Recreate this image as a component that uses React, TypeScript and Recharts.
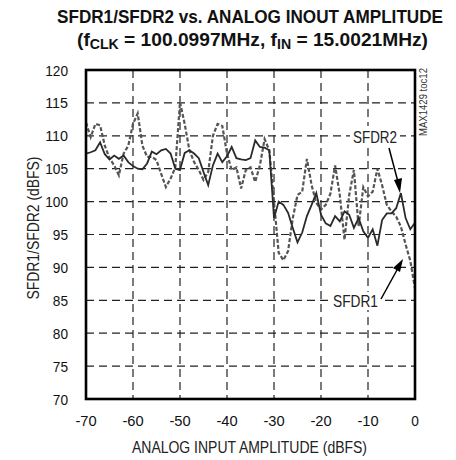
import { LineChart, Line, XAxis, YAxis, CartesianGrid } from 'recharts';

// input amplitude (dBFS)
const amplitude = [
  -70, -69, -68, -67, -66, -65, -64, -63, -62, -61, -60, -59, -58, -57, -56, -55, -54, -53,
  -52, -51, -50, -49, -48, -47, -46, -45, -44, -43, -42, -41, -40, -39, -38, -37, -36, -35,
  -34, -33, -32, -31, -30, -29, -28, -27, -26, -25, -24, -23, -22, -21, -20, -19, -18, -17,
  -16, -15, -14, -13, -12, -11, -10, -9, -8, -7, -6, -5, -4, -3, -2, -1, 0,
];

// dashed trace
const sfdr1 = [
  112.0, 109.8, 111.8, 111.6, 108.5, 106.6, 105.5, 104.0, 107.3, 108.5, 111.8, 113.4, 108.5, 106.8,
  106.8, 106.3, 104.2, 102.2, 103.5, 105.2, 115.1, 111.8, 107.8, 106.0, 104.8, 103.3, 104.5, 110.0,
  111.8, 111.5, 107.3, 104.8, 105.2, 102.0, 104.8, 105.2, 103.0, 105.5, 109.5, 107.8, 100.0, 92.2,
  91.1, 92.5, 97.5, 101.0, 101.5, 106.5, 102.5, 99.8, 98.8, 99.5, 101.2, 105.5, 101.0, 94.2,
  101.0, 104.8, 96.2, 102.2, 100.8, 101.5, 105.0, 102.5, 99.5, 98.5, 97.7, 96.2, 93.5, 91.0, 86.8,
];

// solid trace
const sfdr2 = [
  107.3, 107.5, 107.8, 109.0, 107.2, 106.4, 107.0, 106.5, 107.0, 106.0, 105.4, 105.0, 104.9, 105.8,
  107.6, 107.2, 107.8, 108.0, 107.3, 105.0, 104.8, 107.4, 107.8, 107.3, 106.6, 104.5, 102.5, 105.5,
  107.3, 106.0, 106.9, 108.3, 106.6, 106.4, 106.3, 106.6, 109.3, 108.3, 108.2, 107.8, 97.5, 100.0,
  99.5, 98.3, 96.0, 93.8, 95.3, 97.8, 99.5, 101.3, 98.0, 96.7, 96.3, 97.8, 97.0, 98.5,
  98.0, 96.0, 97.5, 95.5, 94.5, 95.8, 93.3, 97.2, 98.2, 98.2, 99.0, 101.3, 97.5, 95.8, 96.8,
];

const xTicks = [-70, -60, -50, -40, -30, -20, -10, 0];
const yTicks = [70, 75, 80, 85, 90, 95, 100, 105, 110, 115, 120];

const data = amplitude.map((x, i) => ({ x, sfdr1: sfdr1[i], sfdr2: sfdr2[i] }));

const font = "'Liberation Sans Narrow', 'Liberation Sans', Arial, sans-serif";

// narrow-looking tick text: squeeze each label to a condensed width
const charWidth = (s: string) => s.split('').reduce((w, c) => w + (c === '-' ? 6 : 7.6), 0);

const XTick = (props: any) => {
  const { x, y, payload } = props;
  const label = String(payload.value);
  return (
    <text x={x} y={y + 11.5} textAnchor="middle" fontSize={15.5} fill="#111" textLength={charWidth(label)} lengthAdjust="spacingAndGlyphs">
      {label}
    </text>
  );
};

const YTick = (props: any) => {
  const { x, y, payload } = props;
  const label = String(payload.value);
  return (
    <text x={x} y={y + 5.5} textAnchor="end" fontSize={15.5} fill="#111" textLength={charWidth(label)} lengthAdjust="spacingAndGlyphs">
      {label}
    </text>
  );
};

const App = () => {
  return (
    <div style={{ position: 'absolute', left: 0, top: 0, width: 456, height: 460, background: '#fff', fontFamily: font }}>
      <LineChart width={456} height={460} data={data} margin={{ top: 70, right: 41, bottom: 31, left: 36 }}>
        <CartesianGrid stroke="#222" strokeDasharray="8 5" strokeWidth={1.2} />
        <XAxis
          type="number"
          dataKey="x"
          domain={[-70, 0]}
          ticks={xTicks}
          height={30}
          tickLine={false}
          axisLine={false}
          tickSize={0}
          tickMargin={15}
          tick={<XTick />}
        />
        <YAxis
          type="number"
          domain={[70, 120]}
          ticks={yTicks}
          width={50}
          tickLine={false}
          axisLine={false}
          tickSize={0}
          tickMargin={18}
          tick={<YTick />}
        />
        <Line dataKey="sfdr1" stroke="#555" strokeWidth={2.2} strokeDasharray="4 2" dot={false} isAnimationActive={false} />
        <Line dataKey="sfdr2" stroke="#2a2a2a" strokeWidth={1.8} dot={false} isAnimationActive={false} />
      </LineChart>

      <svg width={456} height={460} style={{ position: 'absolute', left: 0, top: 0, pointerEvents: 'none' }}>
        <rect x={86} y={70} width={329} height={329} fill="none" stroke="#000" strokeWidth={2.6} />

        <text x={57} y={23} fontSize={19} fontWeight="bold" textLength={386} lengthAdjust="spacingAndGlyphs" fill="#111">
          SFDR1/SFDR2 vs. ANALOG INOUT AMPLITUDE
        </text>
        <text x={77} y={46} fontSize={19} fontWeight="bold" textLength={351} lengthAdjust="spacingAndGlyphs" fill="#111">
          (f<tspan fontSize={14} dy={3}>CLK</tspan>
          <tspan dy={-3}> = 100.0997MHz, f</tspan>
          <tspan fontSize={14} dy={3}>IN</tspan>
          <tspan dy={-3}> = 15.0021MHz)</tspan>
        </text>

        <text transform="translate(39,228) rotate(-90)" textAnchor="middle" fontSize={16} textLength={143} lengthAdjust="spacingAndGlyphs" fill="#222">
          SFDR1/SFDR2 (dBFS)
        </text>
        <text x={249.5} y={453} textAnchor="middle" fontSize={17} textLength={235} lengthAdjust="spacingAndGlyphs" fill="#222">
          ANALOG INPUT AMPLITUDE (dBFS)
        </text>

        <text transform="translate(427,102) rotate(-90)" textAnchor="middle" fontSize={10} textLength={68} lengthAdjust="spacingAndGlyphs" fill="#333">
          MAX1429 toc12
        </text>

        <rect x={350} y={126} width={50} height={20} fill="#fff" />
        <text x={353} y={143} fontSize={17} textLength={44} lengthAdjust="spacingAndGlyphs" fill="#222">SFDR2</text>
        <line x1={389} y1={148} x2={398} y2={182} stroke="#000" strokeWidth={1.5} />
        <polygon points="400,193 394,180 402,178" fill="#000" />

        <rect x={330} y={292} width={50} height={18} fill="#fff" />
        <text x={333} y={307} fontSize={17} textLength={45} lengthAdjust="spacingAndGlyphs" fill="#222">SFDR1</text>
        <line x1={381} y1={299} x2={397} y2={270} stroke="#000" strokeWidth={1.5} />
        <polygon points="403,259 393,268 400,272" fill="#000" />
      </svg>
    </div>
  );
};

export default App;
